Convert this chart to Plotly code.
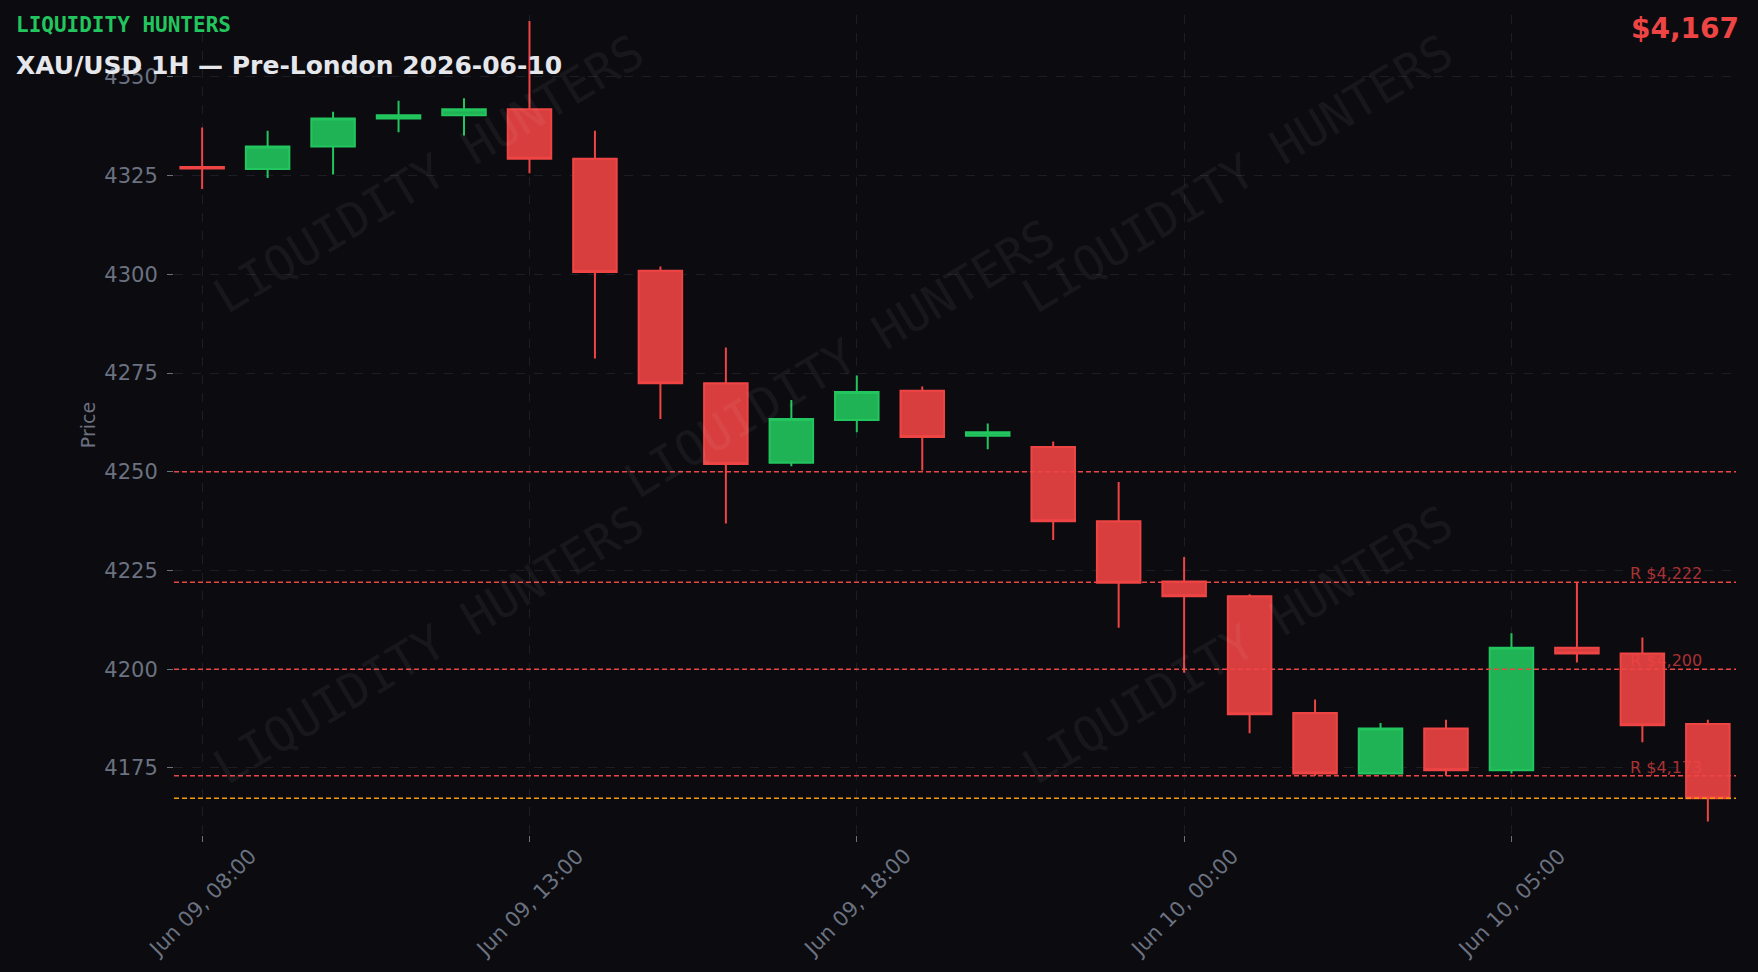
import plotly.graph_objects as go
import pandas as pd

# ---------------- data ----------------
# hourly bars (the 21:00 bar of Jun 09 is absent: daily session break)
times = list(pd.date_range("2026-06-09 08:00", "2026-06-09 20:00", freq="h")) + \
        list(pd.date_range("2026-06-09 22:00", "2026-06-10 08:00", freq="h"))
opens = [4327.2, 4326.7, 4332.4, 4339.5, 4340.3, 4341.8, 4329.3, 4300.9, 4272.4, 4252.3,
         4263.1, 4270.5, 4259.1, 4256.3, 4237.5, 4222.2, 4218.5, 4188.9, 4173.6, 4185.0,
         4174.4, 4205.4, 4204.0, 4186.1]
highs = [4337.2, 4336.4, 4341.2, 4344.0, 4344.6, 4364.2, 4336.4, 4302.0, 4281.5, 4268.2,
         4274.4, 4271.6, 4262.2, 4257.7, 4247.4, 4228.4, 4219.0, 4192.3, 4186.4, 4187.2,
         4209.1, 4221.9, 4208.0, 4187.2]
lows = [4321.6, 4324.4, 4325.3, 4336.0, 4335.2, 4325.6, 4278.7, 4263.4, 4236.9, 4251.4,
        4260.0, 4250.3, 4255.7, 4232.7, 4210.5, 4199.1, 4183.8, 4173.0, 4173.6, 4173.0,
        4173.6, 4201.7, 4181.5, 4161.4]
closes = [4326.8, 4332.4, 4339.5, 4340.3, 4341.8, 4329.3, 4300.6, 4272.4, 4252.0, 4263.4,
          4270.2, 4258.8, 4260.0, 4237.5, 4221.9, 4218.5, 4188.6, 4173.6, 4185.0, 4174.4,
          4205.4, 4204.0, 4185.8, 4167.3]

resistance_levels = [4222, 4200, 4173]
round_levels = [4250]
current_price = closes[-1]

title_text = "XAU/USD 1H — Pre-London 2026-06-10"
brand_text = "LIQUIDITY HUNTERS"

labels = [t.strftime("%b %d, %H:%M") for t in times]
tick_labels = labels[::5]

# ---------------- style ----------------
BG = "#0b0b10"
GRID = "#1d1d26"
TICK = "#6b7280"
RED = "#ef4444"
GREEN = "#22c55e"
ORANGE = "#f59e0b"

# plot area in pixels (for placing paper-referenced texts)
L, R, T, B = 174, 1736, 15, 835
def px(x):
    return (x - L) / (R - L)
def py(y):
    return (B - y) / (B - T)

fig = go.Figure()
fig.add_trace(go.Candlestick(
    x=labels, open=opens, high=highs, low=lows, close=closes,
    increasing=dict(line=dict(color=GREEN, width=2), fillcolor="rgba(34,197,94,0.9)"),
    decreasing=dict(line=dict(color=RED, width=2), fillcolor="rgba(239,68,68,0.9)"),
    whiskerwidth=0, showlegend=False, name="XAU/USD",
))

shapes = []
annotations = []

# watermark
wm_pos = [(428, 174), (839, 359), (1237, 174), (428, 645), (1237, 645)]
for (wx, wy) in wm_pos:
    annotations.append(dict(
        text=brand_text, xref="paper", yref="paper", x=px(wx), y=py(wy),
        xanchor="center", yanchor="middle", showarrow=False, textangle=-31,
        font=dict(family="DejaVu Sans Mono", size=48, color="rgba(255,255,255,0.05)"),
    ))

for lv in round_levels:
    shapes.append(dict(type="line", xref="paper", x0=0, x1=1, yref="y", y0=lv, y1=lv,
                       line=dict(color=RED, width=1.5, dash="5px,3px"), layer="above"))
for lv in resistance_levels:
    shapes.append(dict(type="line", xref="paper", x0=0, x1=1, yref="y", y0=lv, y1=lv,
                       line=dict(color=RED, width=1.5, dash="5px,3px"), layer="above"))
    annotations.append(dict(
        text=f"R ${lv:,}", xref="paper", yref="y", x=px(1704), y=lv,
        xanchor="right", yanchor="bottom", showarrow=False, yshift=-3,
        font=dict(family="DejaVu Sans", size=16, color="rgba(239,68,68,0.7)"),
    ))
shapes.append(dict(type="line", xref="paper", x0=0, x1=1, yref="y",
                   y0=current_price, y1=current_price,
                   line=dict(color=ORANGE, width=1.5, dash="5px,3px"), layer="above"))

# rotated x tick labels, centred on their ticks
for lab in tick_labels:
    annotations.append(dict(
        text=lab, xref="x", yref="paper", x=lab, y=0, yshift=-6,
        xanchor="center", yanchor="top", showarrow=False, textangle=-45,
        font=dict(family="DejaVu Sans", size=21, color=TICK),
    ))

annotations.append(dict(
    text=f"<b>{brand_text}</b>", xref="paper", yref="paper", x=px(14), y=py(25),
    xanchor="left", yanchor="middle", showarrow=False,
    font=dict(family="DejaVu Sans Mono", size=21, color=GREEN),
))
annotations.append(dict(
    text=f"<b>{title_text}</b>", xref="paper", yref="paper", x=px(14), y=py(65),
    xanchor="left", yanchor="middle", showarrow=False,
    font=dict(family="DejaVu Sans", size=25, color="#e5e7eb"),
))
annotations.append(dict(
    text=f"<b>${current_price:,.0f}</b>", xref="paper", yref="paper", x=px(1741), y=py(28),
    xanchor="right", yanchor="middle", showarrow=False,
    font=dict(family="DejaVu Sans", size=28, color=RED),
))

fig.update_layout(
    width=1758, height=972,
    paper_bgcolor=BG, plot_bgcolor=BG,
    margin=dict(l=L, r=1758 - R, t=T, b=972 - B),
    font=dict(family="DejaVu Sans", color=TICK),
    shapes=shapes, annotations=annotations,
    showlegend=False, boxgap=0.3, boxgroupgap=0.05,
)
fig.update_xaxes(
    type="category",
    range=[-0.43, len(labels) - 1 + 0.43],
    rangeslider=dict(visible=False),
    tickmode="array", tickvals=tick_labels, showticklabels=False,
    showgrid=True, gridcolor=GRID, griddash="dash", gridwidth=1,
    ticks="outside", ticklen=6, tickcolor=TICK,
    zeroline=False, showline=False,
)
fig.update_yaxes(
    range=[4158, 4365.7], dtick=25, tick0=4350,
    tickfont=dict(size=21, color=TICK),
    showgrid=True, gridcolor=GRID, griddash="dash", gridwidth=1,
    ticks="outside", ticklen=6, tickcolor=TICK, ticklabelstandoff=5,
    zeroline=False, showline=False,
    title=dict(text="Price", font=dict(size=19, color=TICK), standoff=3),
)

fig.write_html("out.html")
